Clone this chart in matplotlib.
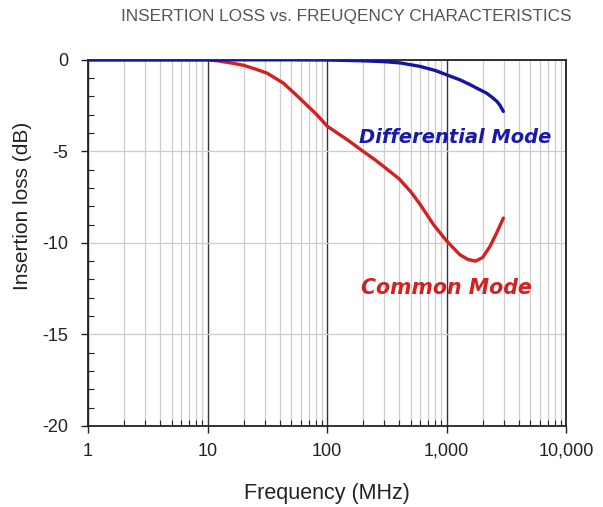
import matplotlib
matplotlib.use('Agg')
import matplotlib.pyplot as plt
from matplotlib.ticker import FixedLocator, LogLocator, NullFormatter

# Differential mode (blue)
DIFF_F = [1, 10, 50, 100, 190, 300, 410, 600, 800, 1000, 1300, 1585, 1850,
          2155, 2400, 2640, 2800, 2980]
DIFF_IL = [0, 0, 0, -0.01, -0.05, -0.1, -0.17, -0.36, -0.58, -0.82, -1.1, -1.37,
           -1.6, -1.82, -2.05, -2.28, -2.5, -2.82]

# Common mode (red)
COMMON_F = [1, 10, 12, 16, 20, 25, 31.5, 43, 59, 82, 100, 125, 150, 200, 250,
            300, 400, 500, 600, 775, 1000, 1290, 1500, 1740, 2000, 2300, 2600,
            2980]
COMMON_IL = [0, 0, -0.05, -0.18, -0.3, -0.5, -0.73, -1.27, -2.1, -3.0, -3.62,
             -4.05, -4.4, -5.0, -5.45, -5.85, -6.5, -7.2, -7.9, -9.0, -9.9,
             -10.65, -10.9, -11.0, -10.8, -10.2, -9.5, -8.65]

XTICKS = [1, 10, 100, 1000, 10000]
XTICKLABELS = ['1', '10', '100', '1,000', '10,000']
YTICKS = [0, -5, -10, -15, -20]

plt.rcParams['font.family'] = ['Liberation Sans', 'DejaVu Sans']
plt.rcParams['axes.unicode_minus'] = False

fig = plt.figure(figsize=(6.03, 5.07), dpi=100)
ax = fig.add_axes([0.146, 0.16, 0.793, 0.722])

ax.set_xscale('log')
ax.set_xlim(1, 10000)
ax.set_ylim(-20, 0)

# grid
ax.xaxis.set_minor_locator(LogLocator(base=10, subs=range(2, 10)))
ax.xaxis.set_minor_formatter(NullFormatter())
ax.grid(True, which='minor', axis='x', color='#cccccc', lw=0.9, zorder=0)
ax.grid(True, which='major', axis='x', color='#333333', lw=1.0, zorder=0)
ax.grid(True, which='major', axis='y', color='#cccccc', lw=0.9, zorder=0)

ax.plot(COMMON_F, COMMON_IL, color='#d42020', lw=2.4, zorder=3,
        solid_capstyle='round', solid_joinstyle='round')
ax.plot(DIFF_F, DIFF_IL, color='#1515a5', lw=2.4, zorder=4,
        solid_capstyle='round', solid_joinstyle='round')

ax.set_xticks(XTICKS)
ax.set_xticklabels(XTICKLABELS)
ax.set_yticks(YTICKS)
ax.yaxis.set_minor_locator(FixedLocator(range(-20, 1)))
ax.tick_params(which='major', direction='out', length=5, width=1, labelsize=13,
               color='#222222', labelcolor='#222222')
ax.tick_params(which='minor', direction='in', length=4, width=0.8, color='#222222')
ax.tick_params(axis='x', which='major', pad=7)
ax.tick_params(axis='y', which='major', pad=9)

for s in ax.spines.values():
    s.set_color('#222222')
    s.set_linewidth(1.3)

ax.text(1175, -4.26, 'Differential Mode', color='#1a1aa8', fontsize=14,
        family='DejaVu Sans', fontweight='bold', style='italic',
        ha='center', va='center', zorder=5)
ax.text(990, -12.46, 'Common Mode', color='#d42020', fontsize=14.8,
        family='DejaVu Sans', fontweight='bold', style='italic',
        ha='center', va='center', zorder=5)

ax.set_xlabel('Frequency (MHz)', fontsize=15.5, color='#222222', labelpad=17)
ax.set_ylabel('Insertion loss (dB)', fontsize=15, color='#222222')
ax.yaxis.set_label_coords(-0.118, 0.60)

fig.text(0.575, 0.968, 'INSERTION LOSS vs. FREUQENCY CHARACTERISTICS',
         ha='center', va='center', fontsize=12.4, color='#555555')

fig.savefig('out.png', dpi=100, facecolor='white')
plt.close(fig)
